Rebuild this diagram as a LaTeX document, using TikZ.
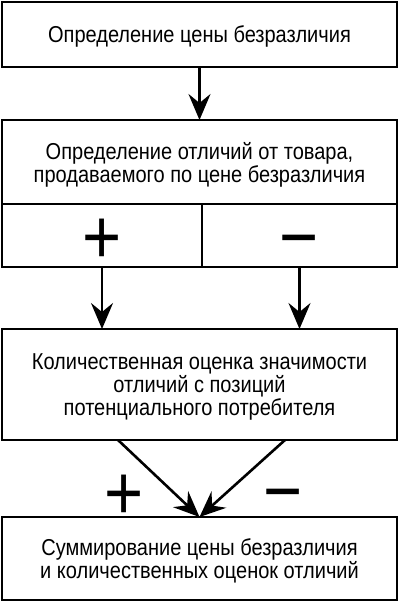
\documentclass[tikz,border=0pt]{standalone}
\usepackage{fontspec}
\setmainfont{Liberation Sans}[FakeStretch=0.87]
\usepackage{tikz}
\usetikzlibrary{arrows.meta,positioning}
\tikzstyle{block} = [rectangle, draw, line width=2.6pt, align=center,
                     minimum width=395pt, inner sep=0pt, outer sep=0pt,
                     text depth=0pt, font=\fontsize{23}{23}\selectfont]
\tikzstyle{cell} = [block, minimum height=63pt, text height=55pt, text depth=0pt,
                    font=\fontsize{77}{77}\selectfont]
\tikzstyle{sign} = [inner sep=0pt, text height=55pt, text depth=0pt,
                    font=\fontsize{77}{77}\selectfont]
\tikzstyle{arrow} = [-{Stealth[length=26pt, width=22pt, inset=9pt]}, line width=2.6pt]

\begin{document}
\begin{tikzpicture}[x=1pt, y=1pt]
    \useasboundingbox (0,0) rectangle (400,-603);
    \node [block, minimum height=65pt] (price) at (199.5,-34.5) {Определение цены безразличия};
    \node [block, minimum height=84pt, below=53pt of price] (diff)
        {Определение отличий от товара,\\продаваемого по цене безразличия};
    \node [cell, minimum width=200pt, anchor=north west] (diffplus) at (diff.south west) {+};
    \node [cell, minimum width=195pt, right=0pt of diffplus] (diffminus) {−};
    \node [block, minimum height=111pt, below=125pt of diff] (qual)
        {Количественная оценка значимости\\отличий с позиций\\потенциального потребителя};
    \node [block, minimum height=83pt, below=77pt of qual] (sum)
        {Суммирование цены безразличия\\и количественных оценок отличий};
    \node [sign] (sumplus) at ([shift={(-75.5,25)}]sum.north) {+};
    \node [sign] (summinus) at ([shift={(83.5,27)}]sum.north) {−};

    \draw [arrow] (price) -- (diff);
    \draw [arrow] (diffplus) -- (diffplus |- qual.north);
    \draw [arrow] (diffminus) -- (diffminus |- qual.north);
    \draw [arrow] ([xshift=-81.5pt]qual.south) -- (sum.north);
    \draw [arrow] ([xshift=85.5pt]qual.south) -- (sum.north);
\end{tikzpicture}
\end{document}
